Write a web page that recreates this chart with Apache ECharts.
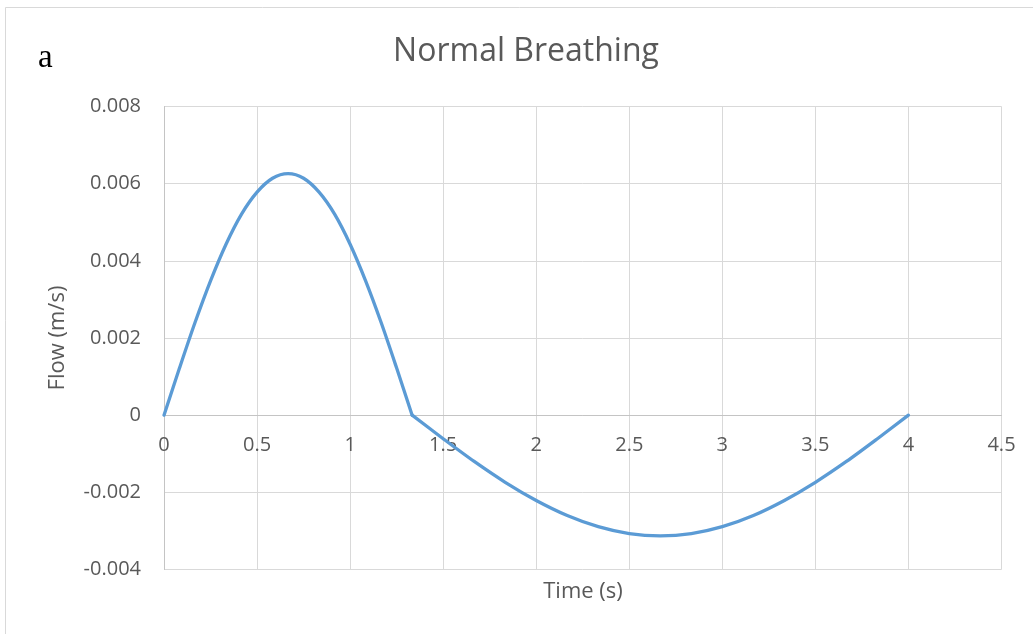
<!DOCTYPE html>
<html>
<head>
<meta charset="utf-8">
<script src="https://cdn.jsdelivr.net/npm/echarts@6/dist/echarts.min.js"></script>
<style>
html,body{margin:0;padding:0;background:#fff;}
#c{width:1034px;height:634px;}
</style>
</head>
<body>
<div id="c"></div>
<script>
// Data
const timesIn = [0, 0.0833, 0.1667, 0.25, 0.3333, 0.4167, 0.5, 0.5833, 0.6667, 0.75, 0.8333, 0.9167, 1.0, 1.0833, 1.1667, 1.25, 1.3333];
const flowIn = [0, 0.00122, 0.00240, 0.00348, 0.00443, 0.00521, 0.00578, 0.00614, 0.00626, 0.00614, 0.00578, 0.00521, 0.00443, 0.00348, 0.00240, 0.00122, 0];
const timesOut = [1.3333, 1.5, 1.6667, 1.8333, 2.0, 2.1667, 2.3333, 2.5, 2.6667, 2.8333, 3.0, 3.1667, 3.3333, 3.5, 3.6667, 3.8333, 4.0];
const flowOut = [0, -0.00061, -0.00120, -0.00174, -0.00221, -0.00260, -0.00289, -0.00307, -0.00313, -0.00307, -0.00289, -0.00260, -0.00221, -0.00174, -0.00120, -0.00061, 0];
const xTicks = [0, 0.5, 1, 1.5, 2, 2.5, 3, 3.5, 4, 4.5];
const yTicks = [-0.004, -0.002, 0, 0.002, 0.004, 0.006, 0.008];
const titleText = 'Normal Breathing';
const xName = 'Time (s)';
const yName = 'Flow (m/s)';
const panelLabel = 'a';

const inPts = timesIn.map((t, i) => [t, flowIn[i]]);
const outPts = timesOut.map((t, i) => [t, flowOut[i]]);
const txt = '#595959';
const gridC = '#d9d9d9';
const axisC = '#c4c4c4';
const font = '"Open Sans", sans-serif';

const gridTop = 106.5, gridBottom = 64.5, H = 634;
const plotH = H - gridTop - gridBottom;
const yMin = yTicks[0], yMax = yTicks[yTicks.length - 1];
const zeroOffset = -plotH * (0 - yMin) / (yMax - yMin);

const lineStyle = {color: '#5b9bd5', width: 3.3, cap: 'round', join: 'round'};
const chart = echarts.init(document.getElementById('c'), null, {renderer: 'canvas'});
chart.setOption({
  animation: false,
  backgroundColor: '#fff',
  grid: {left: 164, right: 32.5, top: gridTop, bottom: gridBottom, containLabel: false},
  xAxis: {
    type: 'value', min: xTicks[0], max: xTicks[xTicks.length - 1], interval: 0.5,
    position: 'bottom', offset: zeroOffset,
    axisLine: {show: true, onZero: false, lineStyle: {color: axisC, width: 1}},
    axisTick: {show: false},
    axisLabel: {color: txt, fontFamily: font, fontSize: 20, margin: 20,
      formatter: v => String(+v.toFixed(2))},
    splitLine: {show: true, lineStyle: {color: gridC, width: 1}}
  },
  yAxis: {
    type: 'value', min: yMin, max: yMax, interval: 0.002,
    axisLine: {show: true, onZero: false, lineStyle: {color: axisC, width: 1}},
    axisTick: {show: false},
    axisLabel: {color: txt, fontFamily: font, fontSize: 20, margin: 23,
      formatter: v => String(+v.toFixed(3))},
    splitLine: {show: true, lineStyle: {color: gridC, width: 1}}
  },
  series: [
    {type: 'line', data: inPts, showSymbol: false, smooth: 0.3, lineStyle: lineStyle, itemStyle: {color: '#5b9bd5'}, z: 3},
    {type: 'line', data: outPts, showSymbol: false, smooth: 0.3, lineStyle: lineStyle, itemStyle: {color: '#5b9bd5'}, z: 3}
  ],
  graphic: [
    {type: 'line', shape: {x1: 5.5, y1: 7.5, x2: 1033, y2: 7.5}, style: {stroke: gridC, lineWidth: 1}, silent: true},
    {type: 'line', shape: {x1: 5.5, y1: 7.5, x2: 5.5, y2: 634}, style: {stroke: gridC, lineWidth: 1}, silent: true},
    {type: 'text', x: 526, y: 52, style: {text: titleText, fill: txt, font: '32px "Open Sans", sans-serif', textAlign: 'center', textVerticalAlign: 'middle'}},
    {type: 'text', x: 583, y: 592, style: {text: xName, fill: txt, font: '22px "Open Sans", sans-serif', textAlign: 'center', textVerticalAlign: 'middle'}},
    {type: 'text', x: 58, y: 338, rotation: Math.PI / 2, style: {text: yName, fill: txt, font: '22px "Open Sans", sans-serif', textAlign: 'center', textVerticalAlign: 'middle'}},
    {type: 'text', x: 38, y: 58, style: {text: panelLabel, fill: '#000', font: '33px "Liberation Serif", serif', textAlign: 'left', textVerticalAlign: 'middle'}}
  ]
});
</script>
</body>
</html>
